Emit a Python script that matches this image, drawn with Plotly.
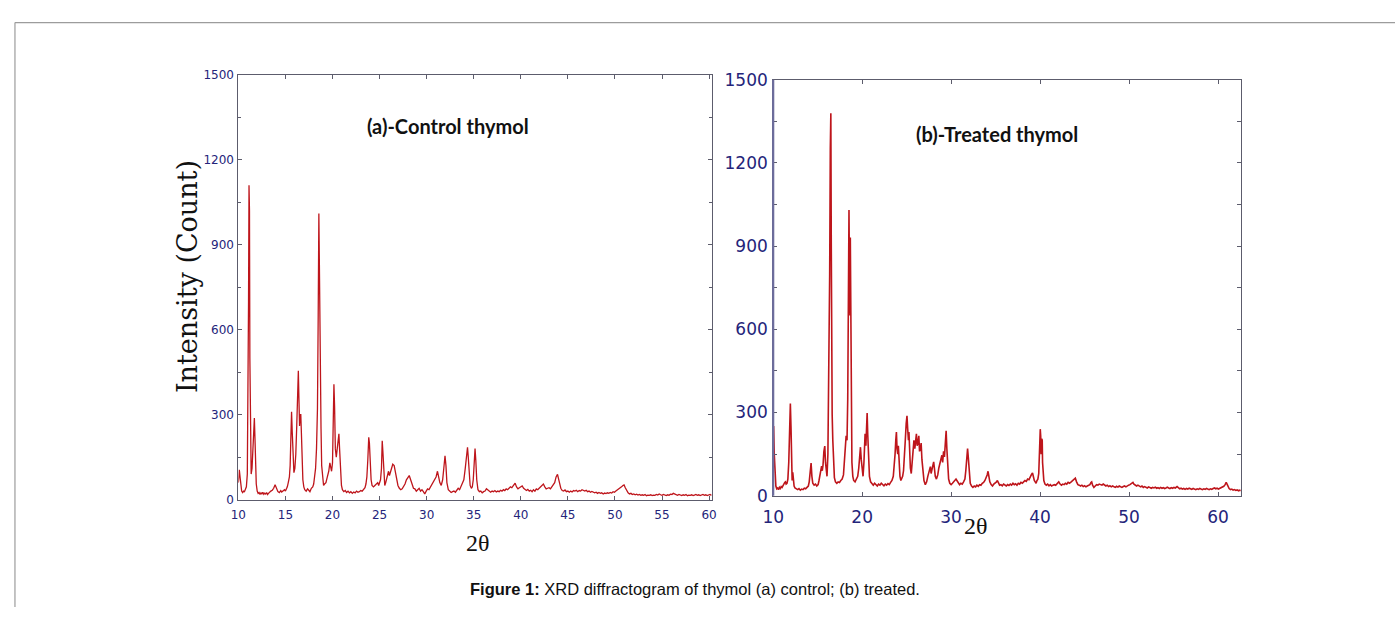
import plotly.graph_objects as go

# ---------------- data ----------------
control_points = [
    (10.0, 60), (10.05, 85), (10.1, 105), (10.18, 80), (10.25, 45), (10.35, 30), (10.45, 25), (10.55, 30),
    (10.65, 28), (10.75, 35), (10.85, 45), (10.95, 90), (11.02, 300), (11.08, 700), (11.13, 1110), (11.18, 1020),
    (11.22, 500), (11.28, 160), (11.36, 90), (11.45, 110), (11.55, 200), (11.63, 240), (11.7, 288), (11.76, 220),
    (11.82, 100), (11.9, 55), (12.0, 30), (12.1, 22), (12.2, 25), (12.3, 18), (12.4, 24), (12.5, 20), (12.6, 26),
    (12.7, 19), (12.8, 23), (12.9, 20), (13.0, 25), (13.1, 18), (13.2, 22), (13.3, 26), (13.45, 30), (13.6, 33),
    (13.75, 40), (13.9, 52), (14.0, 45), (14.1, 35), (14.2, 28), (14.35, 25), (14.5, 32), (14.6, 27), (14.75, 30),
    (14.9, 35), (15.0, 30), (15.1, 38), (15.2, 45), (15.3, 60), (15.42, 80), (15.5, 120), (15.58, 200),
    (15.65, 310), (15.72, 240), (15.8, 130), (15.9, 95), (16.0, 110), (16.1, 160), (16.2, 260), (16.3, 400),
    (16.37, 455), (16.43, 360), (16.5, 260), (16.57, 300), (16.63, 300), (16.68, 250), (16.75, 150), (16.85, 70),
    (16.95, 45), (17.05, 35), (17.2, 30), (17.35, 38), (17.5, 32), (17.6, 28), (17.75, 40), (17.9, 45), (18.0, 55),
    (18.1, 75), (18.2, 110), (18.3, 180), (18.4, 320), (18.48, 650), (18.55, 1010), (18.6, 850), (18.66, 550),
    (18.72, 310), (18.78, 250), (18.85, 120), (18.95, 70), (19.05, 50), (19.15, 55), (19.3, 60), (19.45, 80),
    (19.6, 100), (19.72, 130), (19.8, 115), (19.9, 100), (20.0, 130), (20.08, 250), (20.15, 407), (20.22, 330),
    (20.3, 180), (20.4, 150), (20.5, 185), (20.6, 225), (20.68, 232), (20.75, 180), (20.85, 90), (20.95, 50),
    (21.05, 35), (21.2, 28), (21.35, 32), (21.5, 25), (21.65, 30), (21.8, 24), (21.95, 28), (22.1, 22),
    (22.25, 27), (22.4, 24), (22.55, 30), (22.7, 26), (22.85, 28), (23.0, 32), (23.15, 30), (23.3, 35),
    (23.45, 42), (23.55, 55), (23.65, 80), (23.75, 140), (23.85, 220), (23.92, 200), (24.0, 130), (24.1, 70),
    (24.2, 50), (24.35, 45), (24.5, 50), (24.65, 55), (24.8, 60), (24.9, 50), (25.0, 65), (25.1, 70), (25.2, 110),
    (25.28, 208), (25.35, 170), (25.45, 80), (25.55, 50), (25.65, 60), (25.75, 75), (25.85, 90), (25.95, 100),
    (26.05, 85), (26.15, 95), (26.25, 110), (26.4, 125), (26.55, 120), (26.65, 100), (26.8, 70), (26.95, 50),
    (27.1, 40), (27.25, 35), (27.4, 38), (27.55, 45), (27.7, 55), (27.85, 70), (28.0, 80), (28.15, 85), (28.3, 70),
    (28.45, 50), (28.6, 40), (28.75, 38), (28.9, 30), (29.05, 35), (29.2, 40), (29.35, 30), (29.5, 35),
    (29.65, 28), (29.8, 20), (29.95, 30), (30.1, 38), (30.25, 35), (30.4, 45), (30.55, 55), (30.7, 60),
    (30.85, 75), (31.0, 80), (31.15, 100), (31.25, 85), (31.4, 60), (31.55, 50), (31.7, 70), (31.82, 110),
    (31.95, 155), (32.05, 120), (32.15, 60), (32.3, 35), (32.45, 28), (32.6, 25), (32.75, 28), (32.9, 30),
    (33.05, 26), (33.2, 32), (33.35, 40), (33.5, 35), (33.65, 45), (33.8, 55), (33.95, 70), (34.1, 110),
    (34.25, 160), (34.34, 185), (34.42, 150), (34.52, 80), (34.62, 50), (34.75, 40), (34.85, 45), (34.95, 70),
    (35.05, 140), (35.14, 180), (35.22, 140), (35.32, 70), (35.45, 35), (35.6, 28), (35.75, 30), (35.9, 24),
    (36.05, 28), (36.2, 30), (36.35, 38), (36.5, 33), (36.65, 30), (36.8, 26), (36.95, 30), (37.1, 28),
    (37.25, 32), (37.4, 27), (37.55, 30), (37.7, 28), (37.85, 33), (38.0, 30), (38.15, 35), (38.3, 32),
    (38.45, 38), (38.6, 35), (38.75, 40), (38.9, 45), (39.05, 42), (39.2, 50), (39.4, 58), (39.55, 45),
    (39.7, 38), (39.85, 42), (40.0, 45), (40.15, 48), (40.3, 40), (40.45, 35), (40.6, 32), (40.75, 36),
    (40.9, 30), (41.05, 33), (41.2, 28), (41.35, 35), (41.5, 30), (41.65, 38), (41.8, 35), (41.95, 40),
    (42.1, 45), (42.25, 50), (42.4, 55), (42.55, 45), (42.7, 38), (42.85, 40), (43.0, 42), (43.15, 38),
    (43.3, 45), (43.45, 50), (43.6, 60), (43.75, 80), (43.9, 89), (44.0, 75), (44.1, 55), (44.25, 40),
    (44.4, 32), (44.55, 30), (44.7, 34), (44.85, 28), (45.0, 30), (45.15, 26), (45.3, 30), (45.45, 27),
    (45.6, 32), (45.75, 30), (45.9, 33), (46.05, 28), (46.2, 32), (46.35, 30), (46.5, 35), (46.65, 32),
    (46.8, 30), (46.95, 33), (47.1, 28), (47.25, 30), (47.4, 26), (47.55, 29), (47.7, 27), (47.85, 24),
    (48.0, 26), (48.15, 22), (48.3, 25), (48.45, 22), (48.6, 24), (48.75, 20), (48.9, 23), (49.05, 21),
    (49.2, 24), (49.35, 22), (49.5, 25), (49.65, 23), (49.8, 28), (49.95, 26), (50.1, 30), (50.25, 33),
    (50.4, 36), (50.55, 40), (50.7, 45), (50.85, 50), (50.97, 52), (51.1, 42), (51.25, 30), (51.4, 24),
    (51.55, 20), (51.7, 22), (51.85, 18), (52.0, 20), (52.15, 17), (52.3, 19), (52.45, 16), (52.6, 18),
    (52.75, 15), (52.9, 17), (53.05, 15), (53.2, 18), (53.35, 14), (53.5, 16), (53.65, 15), (53.8, 17),
    (53.95, 14), (54.1, 16), (54.25, 15), (54.4, 18), (54.55, 16), (54.7, 20), (54.85, 17), (55.0, 15),
    (55.15, 18), (55.3, 16), (55.45, 14), (55.6, 17), (55.75, 15), (55.9, 19), (56.05, 18), (56.2, 22),
    (56.35, 20), (56.5, 17), (56.65, 15), (56.8, 18), (56.95, 16), (57.1, 14), (57.25, 17), (57.4, 15),
    (57.55, 18), (57.7, 14), (57.85, 16), (58.0, 15), (58.15, 17), (58.3, 14), (58.45, 16), (58.6, 18),
    (58.75, 15), (58.9, 17), (59.05, 14), (59.2, 16), (59.35, 18), (59.5, 15), (59.65, 17), (59.8, 14),
    (59.95, 16), (60.1, 18), (60.25, 15),
]

treated_points = [
    (10.0, 70), (10.05, 251), (10.12, 150), (10.2, 60), (10.3, 35), (10.4, 25), (10.5, 28), (10.6, 22),
    (10.7, 30), (10.8, 26), (10.9, 33), (11.0, 30), (11.1, 38), (11.2, 40), (11.3, 48), (11.37, 50),
    (11.45, 42), (11.55, 45), (11.65, 60), (11.75, 120), (11.85, 250), (11.93, 332), (12.0, 250), (12.07, 100),
    (12.13, 55), (12.2, 84), (12.27, 60), (12.35, 35), (12.45, 28), (12.6, 25), (12.75, 22), (12.9, 26),
    (13.05, 20), (13.2, 24), (13.35, 22), (13.5, 27), (13.65, 25), (13.8, 30), (13.95, 35), (14.05, 50),
    (14.15, 80), (14.26, 118), (14.35, 70), (14.45, 45), (14.6, 38), (14.75, 42), (14.9, 35), (15.05, 40),
    (15.15, 55), (15.25, 75), (15.35, 100), (15.44, 107), (15.52, 90), (15.6, 110), (15.7, 160), (15.8, 179),
    (15.88, 120), (15.95, 80), (16.05, 70), (16.15, 150), (16.25, 450), (16.35, 800), (16.42, 1250),
    (16.48, 1379), (16.53, 900), (16.58, 400), (16.63, 293), (16.7, 200), (16.78, 100), (16.88, 65), (17.0, 50),
    (17.15, 45), (17.3, 50), (17.45, 48), (17.6, 55), (17.75, 60), (17.9, 75), (18.0, 110), (18.1, 170),
    (18.2, 216), (18.3, 200), (18.38, 350), (18.45, 700), (18.52, 1030), (18.58, 750), (18.63, 650),
    (18.67, 931), (18.72, 600), (18.78, 250), (18.85, 120), (18.95, 70), (19.05, 55), (19.2, 50), (19.35, 60),
    (19.5, 70), (19.62, 100), (19.72, 150), (19.81, 175), (19.9, 130), (20.0, 80), (20.1, 70), (20.2, 120),
    (20.33, 223), (20.42, 180), (20.5, 240), (20.56, 298), (20.63, 220), (20.72, 120), (20.82, 70), (20.95, 50),
    (21.1, 42), (21.25, 38), (21.4, 45), (21.55, 40), (21.7, 35), (21.85, 42), (22.0, 38), (22.15, 45),
    (22.3, 40), (22.45, 36), (22.6, 42), (22.75, 38), (22.9, 44), (23.05, 40), (23.2, 48), (23.35, 55),
    (23.5, 70), (23.6, 100), (23.7, 150), (23.78, 200), (23.85, 230), (23.92, 170), (24.0, 150), (24.07, 180),
    (24.15, 120), (24.25, 70), (24.35, 55), (24.45, 60), (24.55, 70), (24.65, 90), (24.75, 130), (24.85, 200),
    (24.95, 260), (25.04, 288), (25.12, 240), (25.2, 200), (25.26, 230), (25.33, 160), (25.42, 100),
    (25.52, 80), (25.62, 110), (25.72, 160), (25.82, 200), (25.92, 170), (26.02, 200), (26.1, 223),
    (26.18, 180), (26.26, 190), (26.37, 216), (26.45, 160), (26.55, 170), (26.63, 190), (26.72, 130),
    (26.82, 80), (26.95, 55), (27.1, 40), (27.25, 50), (27.38, 70), (27.5, 90), (27.6, 100), (27.67, 105),
    (27.75, 80), (27.85, 95), (27.95, 110), (28.04, 122), (28.12, 100), (28.22, 70), (28.35, 60), (28.5, 75),
    (28.62, 100), (28.75, 120), (28.85, 140), (28.96, 146), (29.05, 120), (29.15, 160), (29.25, 140),
    (29.35, 180), (29.44, 234), (29.52, 170), (29.6, 100), (29.72, 60), (29.85, 45), (30.0, 40), (30.15, 45),
    (30.3, 50), (30.45, 55), (30.55, 60), (30.65, 55), (30.8, 45), (30.95, 40), (31.1, 45), (31.25, 42),
    (31.4, 50), (31.55, 60), (31.65, 90), (31.75, 140), (31.85, 170), (31.95, 130), (32.05, 70), (32.15, 45),
    (32.3, 35), (32.45, 30), (32.6, 35), (32.75, 32), (32.9, 38), (33.05, 34), (33.2, 40), (33.35, 38),
    (33.5, 45), (33.65, 48), (33.8, 55), (33.95, 65), (34.05, 75), (34.15, 88), (34.25, 70), (34.35, 50),
    (34.5, 40), (34.65, 35), (34.8, 42), (34.95, 45), (35.1, 50), (35.2, 55), (35.3, 45), (35.45, 38),
    (35.6, 40), (35.75, 36), (35.9, 42), (36.05, 38), (36.2, 35), (36.35, 40), (36.5, 37), (36.65, 42),
    (36.8, 38), (36.95, 45), (37.1, 40), (37.25, 43), (37.4, 38), (37.55, 45), (37.7, 42), (37.85, 48),
    (38.0, 45), (38.15, 50), (38.3, 55), (38.45, 52), (38.6, 60), (38.75, 58), (38.9, 70), (39.05, 78),
    (39.15, 82), (39.25, 65), (39.35, 55), (39.45, 50), (39.55, 45), (39.65, 55), (39.75, 60), (39.85, 80),
    (39.95, 205), (40.02, 240), (40.07, 215), (40.12, 150), (40.18, 205), (40.24, 200), (40.28, 120),
    (40.34, 71), (40.42, 55), (40.55, 42), (40.7, 38), (40.85, 42), (41.0, 36), (41.15, 40), (41.3, 35),
    (41.45, 38), (41.6, 40), (41.75, 38), (41.9, 45), (42.1, 50), (42.25, 42), (42.4, 38), (42.55, 42),
    (42.7, 40), (42.85, 45), (43.0, 42), (43.15, 48), (43.3, 45), (43.5, 50), (43.7, 55), (43.85, 60),
    (43.96, 63), (44.1, 50), (44.25, 40), (44.4, 38), (44.55, 35), (44.7, 38), (44.85, 33), (45.0, 36),
    (45.15, 32), (45.3, 35), (45.45, 38), (45.6, 40), (45.72, 48), (45.8, 50), (45.9, 38), (46.05, 30),
    (46.2, 35), (46.35, 40), (46.5, 38), (46.65, 42), (46.8, 40), (46.95, 38), (47.1, 42), (47.25, 38),
    (47.4, 35), (47.55, 38), (47.7, 33), (47.85, 36), (48.0, 32), (48.15, 35), (48.3, 33), (48.45, 30),
    (48.6, 34), (48.75, 31), (48.9, 35), (49.05, 32), (49.2, 30), (49.35, 33), (49.5, 35), (49.65, 32),
    (49.8, 36), (49.95, 38), (50.1, 40), (50.25, 44), (50.35, 46), (50.44, 48), (50.55, 42), (50.7, 38),
    (50.85, 35), (51.0, 38), (51.15, 34), (51.3, 32), (51.45, 35), (51.6, 30), (51.75, 33), (51.9, 30),
    (52.05, 28), (52.2, 32), (52.35, 29), (52.5, 27), (52.65, 30), (52.8, 28), (52.95, 31), (53.1, 27),
    (53.25, 29), (53.4, 26), (53.55, 30), (53.7, 27), (53.85, 29), (54.0, 26), (54.15, 28), (54.3, 31),
    (54.45, 28), (54.6, 26), (54.75, 29), (54.9, 27), (55.05, 30), (55.2, 28), (55.4, 33), (55.55, 28),
    (55.7, 25), (55.85, 27), (56.0, 24), (56.15, 26), (56.3, 23), (56.45, 26), (56.6, 24), (56.75, 27),
    (56.9, 25), (57.05, 23), (57.2, 26), (57.35, 24), (57.5, 22), (57.65, 25), (57.8, 23), (57.95, 26),
    (58.1, 24), (58.25, 22), (58.4, 25), (58.55, 23), (58.7, 26), (58.85, 24), (59.0, 22), (59.15, 25),
    (59.3, 23), (59.45, 26), (59.6, 28), (59.75, 25), (59.9, 27), (60.05, 24), (60.2, 26), (60.35, 28),
    (60.5, 30), (60.65, 34), (60.8, 40), (60.92, 48), (61.02, 42), (61.12, 32), (61.25, 26), (61.4, 22),
    (61.55, 24), (61.7, 20), (61.85, 22), (62.0, 19), (62.15, 21), (62.3, 18), (62.45, 20), (62.56, 18),
]

two_theta_control = [p[0] for p in control_points]
counts_control = [p[1] for p in control_points]
two_theta_treated = [p[0] for p in treated_points]
counts_treated = [p[1] for p in treated_points]

left_xticks = [10, 15, 20, 25, 30, 35, 40, 45, 50, 55, 60]
right_xticks = [10, 20, 30, 40, 50, 60]
yticks = [0, 300, 600, 900, 1200, 1500]

title_a = "(a)-Control thymol"
title_b = "(b)-Treated thymol"
y_title = "Intensity (Count)"
x_title = "2θ"
caption_bold = "Figure 1:"
caption_rest = " XRD diffractogram of thymol (a) control; (b) treated."

# ---------------- layout helpers (screen pixel -> paper) ----------------
W, H = 1400, 617
def px(x):
    return x / W
def py(y):
    return 1 - y / H

LINE_RED = "#be151b"
TICK_BLUE = "#24247a"
SPINE = "#5c5c6c"

fig = go.Figure()
fig.add_trace(go.Scatter(x=two_theta_control, y=counts_control, mode="lines",
                         line=dict(color=LINE_RED, width=1.3), xaxis="x", yaxis="y",
                         showlegend=False, hoverinfo="skip"))
fig.add_trace(go.Scatter(x=two_theta_treated, y=counts_treated, mode="lines",
                         line=dict(color=LINE_RED, width=1.6), xaxis="x2", yaxis="y2",
                         showlegend=False, hoverinfo="skip"))

common_ax = dict(showgrid=False, zeroline=False, showline=True, linecolor=SPINE, linewidth=1,
                 mirror="ticks", ticks="inside", ticklen=4, tickcolor=SPINE, tickwidth=1)

fig.update_layout(
    width=W, height=H, autosize=False,
    margin=dict(l=0, r=0, t=0, b=0),
    paper_bgcolor="white", plot_bgcolor="white",
    xaxis=dict(domain=[px(230), px(709)], range=[10, 60.3], anchor="y",
               tickvals=left_xticks, ticklabelstandoff=4,
               tickfont=dict(family="DejaVu Sans", size=12, color=TICK_BLUE), **common_ax),
    yaxis=dict(domain=[py(506), py(67)], range=[0, 1500], anchor="x",
               tickvals=yticks, ticklabelstandoff=1,
               minor=dict(dtick=150, ticks="inside", ticklen=3, tickcolor=SPINE),
               tickfont=dict(family="DejaVu Sans", size=12, color=TICK_BLUE), **common_ax),
    xaxis2=dict(domain=[px(771), px(1244)], range=[10, 62.56], anchor="y2",
                tickvals=right_xticks, ticklabelstandoff=6,
                tickfont=dict(family="DejaVu Sans", size=17, color=TICK_BLUE), **common_ax),
    yaxis2=dict(domain=[py(502), py(72)], range=[0, 1500], anchor="x2",
                tickvals=yticks, ticklabelstandoff=1,
                minor=dict(dtick=150, ticks="inside", ticklen=4, tickcolor=SPINE),
                tickfont=dict(family="DejaVu Sans", size=17, color=TICK_BLUE), **common_ax),
)

annotations = [
    dict(text=title_a, x=px(442), y=py(120), xref="paper", yref="paper", showarrow=False,
         font=dict(family="Lato", size=20, color="#111111", weight="bold"),
         xanchor="center", yanchor="middle"),
    dict(text=title_b, x=px(997), y=py(128), xref="paper", yref="paper", showarrow=False,
         font=dict(family="Lato", size=20, color="#111111", weight="bold"),
         xanchor="center", yanchor="middle"),
    dict(text=y_title, x=px(178), y=py(275), xref="paper", yref="paper", showarrow=False,
         textangle=-90, font=dict(family="DejaVu Serif", size=27, color="#111111"),
         xanchor="center", yanchor="middle"),
    dict(text=x_title, x=px(472), y=py(551), xref="paper", yref="paper", showarrow=False,
         font=dict(family="Liberation Serif", size=24, color="#111111"),
         xanchor="center", yanchor="middle"),
    dict(text=x_title, x=px(976), y=py(533), xref="paper", yref="paper", showarrow=False,
         font=dict(family="Liberation Serif", size=24, color="#111111"),
         xanchor="center", yanchor="middle"),
    dict(text="<b>" + caption_bold + "</b>" + caption_rest, x=px(692), y=py(598),
         xref="paper", yref="paper", showarrow=False,
         font=dict(family="Liberation Sans, Arial", size=16.5, color="#111111"),
         xanchor="center", yanchor="middle"),
]
fig.update_layout(annotations=annotations)

shapes = [
    # page frame
    dict(type="line", xref="paper", yref="paper", x0=px(4), x1=1, y0=py(13), y1=py(13),
         line=dict(color="#9c9c9c", width=1.2)),
    dict(type="line", xref="paper", yref="paper", x0=px(4), x1=px(4), y0=py(13), y1=0,
         line=dict(color="#9c9c9c", width=1.2)),
    # thicker bluish left spine of panel (b)
    dict(type="line", xref="paper", yref="paper", x0=px(771), x1=px(771), y0=py(502), y1=py(72),
         line=dict(color="#6d6d9d", width=2.2)),
]
fig.update_layout(shapes=shapes)

# pin the figure to the top-left corner of the page (no default body margin)
fix_page = (
    "document.documentElement.style.margin='0';"
    "document.body.style.margin='0';"
    "document.body.style.padding='0';"
    "document.body.style.overflow='hidden';"
    "var gd=document.getElementById('{plot_id}');"
    "if(gd){gd.style.position='fixed';gd.style.left='0px';gd.style.top='0px';}"
)
fig.write_html("out.html", config={"displayModeBar": False}, post_script=fix_page)
